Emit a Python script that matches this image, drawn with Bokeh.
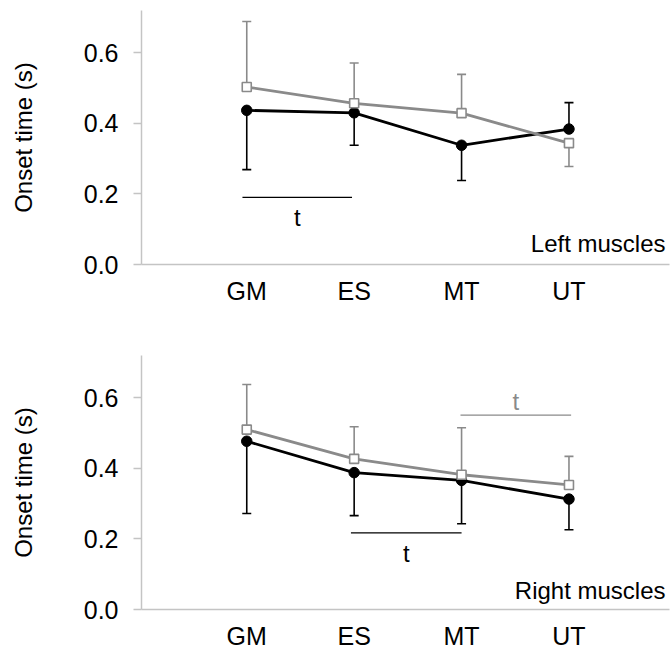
from bokeh.plotting import figure
from bokeh.layouts import column
from bokeh.models import FixedTicker, Label, Range1d
from bokeh.embed import file_html
from bokeh.resources import INLINE

# ---- data -------------------------------------------------------------
muscles = ["GM", "ES", "MT", "UT"]
xpos = [1, 2, 3, 4]
y_ticks = [0.0, 0.2, 0.4, 0.6]

# Left muscles
left_black = [0.437, 0.430, 0.338, 0.384]
left_black_bar = [0.269, 0.338, 0.238, 0.459]   # error-bar end
left_gray = [0.503, 0.457, 0.429, 0.344]
left_gray_bar = [0.689, 0.571, 0.539, 0.278]

# Right muscles
right_black = [0.477, 0.388, 0.366, 0.313]
right_black_bar = [0.272, 0.266, 0.243, 0.226]
right_gray = [0.510, 0.427, 0.382, 0.353]
right_gray_bar = [0.638, 0.518, 0.515, 0.434]

# significance markers: (x start, x end, line y, label y, colour)
left_sig_x0 = [0.96]
left_sig_x1 = [1.98]
left_sig_y = [0.19]
left_sig_ty = [0.134]
left_sig_col = ["black"]

right_sig_x0 = [1.97, 2.99]
right_sig_x1 = [3.00, 4.02]
right_sig_y = [0.217, 0.551]
right_sig_ty = [0.159, 0.591]
right_sig_col = ["black", "#8a8a8a"]

FONT = "Liberation Sans"
GRAY = "#8a8a8a"
AXIS = "#c4c4c4"


def panel(black, black_bar, gray, gray_bar, sx0, sx1, sy, sty, scol,
          side_text, side_y, height, btop, bbottom):
    p = figure(width=672, height=height, output_backend="svg",
               toolbar_location=None, x_range=Range1d(0.02, 4.936),
               y_range=Range1d(0, 0.72), min_border_left=141,
               min_border_right=3, min_border_top=btop,
               min_border_bottom=bbottom)
    p.outline_line_color = None
    p.grid.visible = False
    p.background_fill_color = "white"

    # axes
    p.xaxis.ticker = FixedTicker(ticks=xpos)
    p.xaxis.major_label_overrides = {x: m for x, m in zip(xpos, muscles)}
    p.xaxis.major_tick_out = 0
    p.xaxis.major_tick_in = 0
    p.xaxis.minor_tick_line_color = None
    p.xaxis.axis_line_color = AXIS
    p.xaxis.axis_line_width = 1.5
    p.xaxis.major_label_standoff = 12
    p.xaxis.major_label_text_font = FONT
    p.xaxis.major_label_text_font_size = "25px"
    p.xaxis.major_label_text_color = "black"

    p.yaxis.ticker = FixedTicker(ticks=y_ticks)
    p.yaxis.major_label_overrides = {t: f"{t:.1f}" for t in y_ticks}
    p.yaxis.major_tick_out = 8
    p.yaxis.major_tick_in = 0
    p.yaxis.minor_tick_line_color = None
    p.yaxis.major_tick_line_color = AXIS
    p.yaxis.major_tick_line_width = 1.5
    p.yaxis.axis_line_color = AXIS
    p.yaxis.axis_line_width = 1.5
    p.yaxis.major_label_standoff = 15
    p.yaxis.major_label_text_font = FONT
    p.yaxis.major_label_text_font_size = "25px"
    p.yaxis.major_label_text_color = "black"
    p.yaxis.axis_label = "Onset time (s)"
    p.yaxis.axis_label_text_font = FONT
    p.yaxis.axis_label_text_font_size = "24px"
    p.yaxis.axis_label_text_font_style = "normal"
    p.yaxis.axis_label_text_color = "black"
    p.yaxis.axis_label_standoff = 44

    # error bars
    p.segment(xpos, gray, xpos, gray_bar, line_color=GRAY, line_width=1.6)
    p.dash(xpos, gray_bar, size=9, line_color=GRAY, line_width=1.6)
    p.segment(xpos, black, xpos, black_bar, line_color="black", line_width=1.6)
    p.dash(xpos, black_bar, size=9, line_color="black", line_width=1.6)

    # series
    p.line(xpos, black, line_color="black", line_width=2.8)
    p.scatter(xpos, black, marker="circle", size=10.5, fill_color="black",
              line_color="black")
    p.line(xpos, gray, line_color=GRAY, line_width=2.8)
    p.scatter(xpos, gray, marker="square", size=9, fill_color="white",
              line_color=GRAY, line_width=1.6)

    # significance lines
    p.segment(sx0, sy, sx1, sy, line_color=scol, line_width=1.3)
    for a, b, ty, c in zip(sx0, sx1, sty, scol):
        p.add_layout(Label(x=(a + b) / 2, y=ty, text="t", text_align="center",
                           text_baseline="middle", text_font=FONT,
                           text_font_size="24px", text_color=c))

    p.add_layout(Label(x=4.899, y=side_y, text=side_text, text_align="right",
                       text_baseline="middle", text_font=FONT,
                       text_font_size="24px", text_color="black"))
    return p


p1 = panel(left_black, left_black_bar, left_gray, left_gray_bar,
           left_sig_x0, left_sig_x1, left_sig_y, left_sig_ty, left_sig_col,
           "Left muscles", 0.06, 338, 10, 74)
p2 = panel(right_black, right_black_bar, right_gray, right_gray_bar,
           right_sig_x0, right_sig_x1, right_sig_y, right_sig_ty, right_sig_col,
           "Right muscles", 0.054, 319, 17, 48)

layout = column(p1, p2, spacing=0)
open("out.html", "w").write(file_html(layout, INLINE))
